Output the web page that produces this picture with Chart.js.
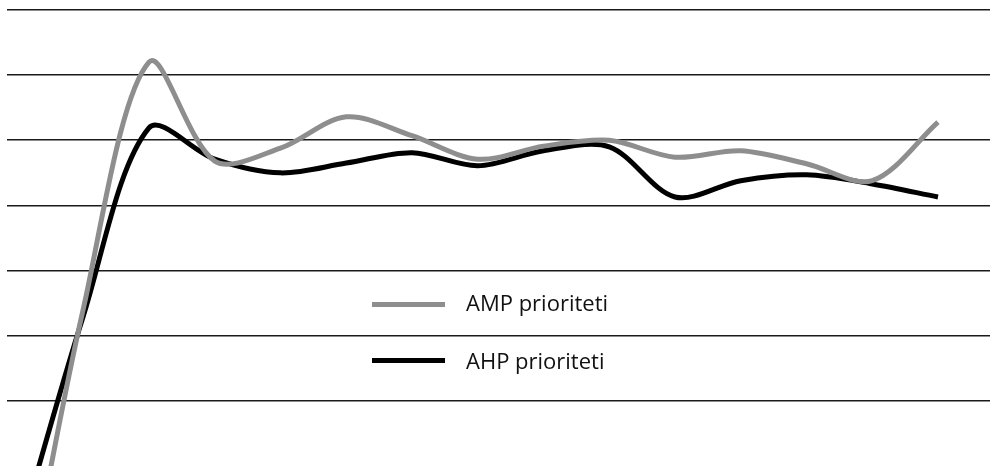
<!DOCTYPE html>
<html>
<head>
<meta charset="utf-8">
<script src="https://cdn.jsdelivr.net/npm/chart.js@4"></script>
<style>
  html, body { margin: 0; padding: 0; background: #fff; }
  #wrap { position: relative; width: 990px; height: 466px; }
  .key { position: absolute; left: 372px; width: 73px; height: 5px; }
  .lbl { position: absolute; left: 466px; font-family: "Open Sans", sans-serif; font-size: 22px; color: #111; line-height: 1; }
</style>
</head>
<body>
<div id="wrap">
  <canvas id="chart" width="990" height="466"></canvas>
  <div class="key" style="top:302px;background:#8e8e8e"></div>
  <div class="lbl" style="top:291px">AMP prioriteti</div>
  <div class="key" style="top:358px;background:#000"></div>
  <div class="lbl" style="top:349px">AHP prioriteti</div>
</div>
<script>
// criteria numbers along the x axis
const criteria = [1,2,3,4,5,6,7,8,9,10,11,12,13,14,15];
// priorities
const amp = [0.0031,0.0541,0.0920,0.0768,0.0788,0.0836,0.0807,0.0771,0.0791,0.0800,0.0774,0.0784,0.0764,0.0738,0.0828];
const ahp = [0.0186,0.0530,0.0819,0.0771,0.0750,0.0765,0.0781,0.0761,0.0784,0.0790,0.0713,0.0738,0.0747,0.0733,0.0713];
const yTicks = [0.03,0.04,0.05,0.06,0.07,0.08,0.09,0.10];

const pts = arr => arr.map((v, i) => ({ x: criteria[i], y: v }));

let chart = new Chart(document.getElementById('chart'), {
  type: 'line',
  data: {
    datasets: [
      { label: 'AMP prioriteti', data: pts(amp), borderColor: '#8e8e8e', borderWidth: 5, pointRadius: 0, tension: 0.32 },
      { label: 'AHP prioriteti', data: pts(ahp), borderColor: '#000', borderWidth: 5, pointRadius: 0, tension: 0.32 }
    ]
  },
  options: {
    responsive: false,
    animation: false,
    layout: { padding: { top: 10, left: 7, right: 0, bottom: 0 } },
    plugins: { legend: { display: false }, tooltip: { enabled: false } },
    scales: {
      x: { type: 'linear', min: 0.8403, max: 15.791, display: false },
      y: {
        min: yTicks[0], max: yTicks[yTicks.length - 1],
        afterBuildTicks: s => { s.ticks = yTicks.map(v => ({ value: v })); },
        ticks: { display: false },
        border: { display: false },
        grid: {
          drawTicks: false,
          lineWidth: 1.6,
          color: c => (c.tick && c.tick.value <= yTicks[0] + 1e-6) ? 'rgba(0,0,0,0)' : '#1a1a1a'
        }
      }
    }
  }
});
</script>
</body>
</html>
